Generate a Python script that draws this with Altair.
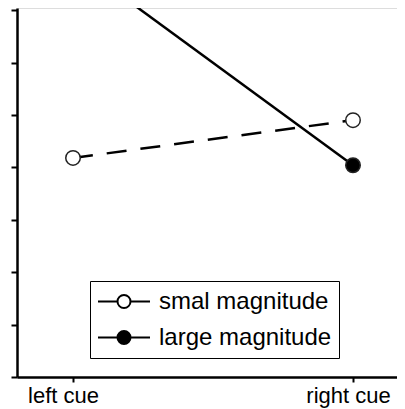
import altair as alt
import pandas as pd

cues = ["left cue", "right cue"]
series_names = ["smal magnitude", "large magnitude"]
small_vals = [4.18, 4.90]
large_vals = [7.95, 4.04]
y_ticks = [0, 1, 2, 3, 4, 5, 6, 7]

rows = []
for c, v in zip(cues, small_vals):
    rows.append({"cue": c, "value": v, "series": series_names[0]})
for c, v in zip(cues, large_vals):
    rows.append({"cue": c, "value": v, "series": series_names[1]})
df = pd.DataFrame(rows)

FONT = "Liberation Sans"

x_enc = alt.X(
    "cue:N",
    sort=cues,
    scale=alt.Scale(type="point", padding=0.1786, align=0.56),
    axis=alt.Axis(
        title=None,
        labelFontSize=22,
        labelColor="black",
        labelFont=FONT,
        labelPadding=3,
        labelAngle=0,
        labelOffset={"condition": {"test": "datum.value == 'left cue'", "value": -10}, "value": -5},
        tickSize=5,
        tickWidth=2,
        tickColor="black",
        domainColor="black",
        domainWidth=2.5,
        grid=False,
    ),
)
y_enc = alt.Y(
    "value:Q",
    scale=alt.Scale(domain=[0, 7.04], nice=False, zero=False),
    axis=alt.Axis(
        title=None,
        values=y_ticks,
        labels=False,
        tickSize=6,
        tickWidth=2,
        tickColor="black",
        domainColor="black",
        domainWidth=2.5,
        grid=False,
    ),
)

base = alt.Chart(df)

line_small = base.transform_filter(
    alt.datum.series == series_names[0]
).mark_line(color="black", strokeWidth=2.5, strokeDash=[20, 14], clip=True).encode(
    x=x_enc, y=y_enc
)
line_large = base.transform_filter(
    alt.datum.series == series_names[1]
).mark_line(color="black", strokeWidth=2.5, clip=True).encode(
    x=x_enc, y=y_enc
)

sym = "M-1,0H-0.25M0.25,0H1M0.25,0A0.25,0.25,0,1,1,-0.25,0A0.25,0.25,0,1,1,0.25,0Z"

points = base.mark_point(
    filled=True, size=210, stroke="#222", strokeWidth=1.5, opacity=1, clip=True
).encode(
    x=x_enc,
    y=y_enc,
    fill=alt.Fill(
        "series:N",
        scale=alt.Scale(domain=series_names, range=["white", "black"]),
        legend=alt.Legend(
            title=None,
            orient="none",
            legendX=73,
            legendY=273,
            symbolType=sym,
            symbolSize=2704,
            symbolStrokeColor="black",
            symbolStrokeWidth=2,
            labelFontSize=24,
            labelFont=FONT,
            labelColor="black",
            labelOffset=8,
            labelLimit=0,
            clipHeight=27,
            rowPadding=9,
            padding=7,
            strokeColor="black",
            fillColor="white",
        ),
    ),
)

chart = (
    alt.layer(line_small, line_large, points)
    .properties(
        width=380,
        height=369,
        padding={"left": 9, "top": 0, "right": 0, "bottom": 32},
        autosize="none",
    )
    .configure_view(stroke=None)
    .configure_legend(strokeWidth=2)
    .configure(font=FONT)
)

chart.save("out.html", embed_options={"renderer": "svg", "actions": False})
